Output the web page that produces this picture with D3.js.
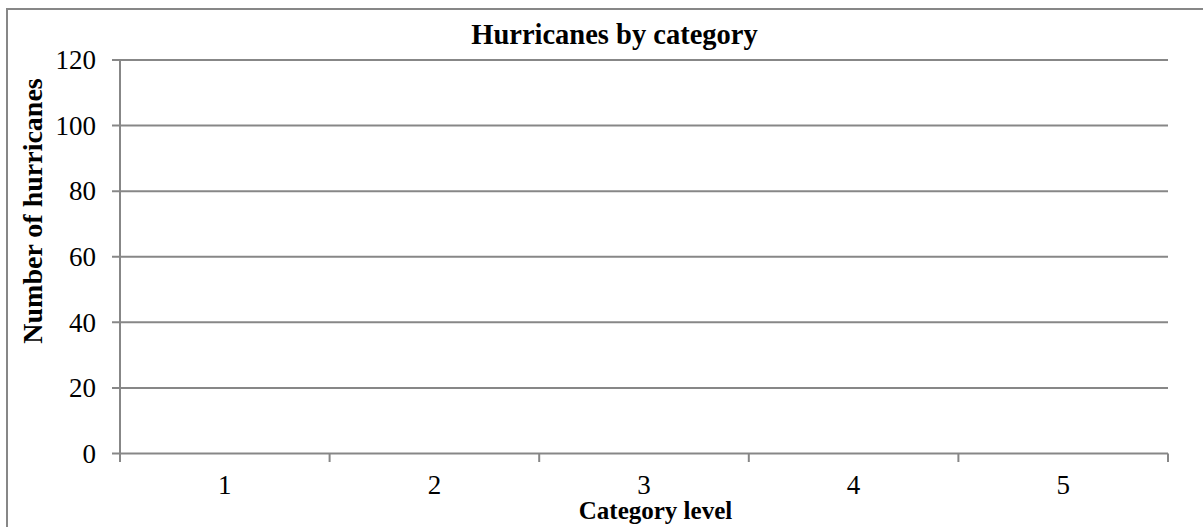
<!DOCTYPE html>
<html>
<head>
<meta charset="utf-8">
<script src="https://cdn.jsdelivr.net/npm/d3@7"></script>
<style>
  html, body { margin: 0; padding: 0; background: #fff; }
  svg { display: block; }
  text { font-family: "Liberation Serif", "Times New Roman", serif; fill: #000; }
</style>
</head>
<body>
<svg id="chart" width="1203" height="527"></svg>
<script>
// Chart data
const categories = ["1", "2", "3", "4", "5"];
const hurricaneCounts = [null, null, null, null, null]; // no counts recorded yet
const yTicks = [0, 20, 40, 60, 80, 100, 120];
const chartTitle = "Hurricanes by category";
const xTitle = "Category level";
const yTitle = "Number of hurricanes";

const svg = d3.select("#chart");
const plot = { left: 120, right: 1168, top: 60, bottom: 453.5 };
const gray = "#878787";

// Outer chart frame (extends past the visible window on the right and bottom)
svg.append("rect")
  .attr("x", 7).attr("y", 9)
  .attr("width", 1240).attr("height", 560)
  .attr("fill", "none").attr("stroke", gray).attr("stroke-width", 2);

const x = d3.scaleBand().domain(categories).range([plot.left, plot.right]).padding(0.3).paddingOuter(0.15);
const xBand = d3.scaleBand().domain(categories).range([plot.left, plot.right]).padding(0);
const y = d3.scaleLinear().domain([0, 120]).range([plot.bottom, plot.top]);

// Horizontal gridlines with left tick stubs
svg.append("g").selectAll("line").data(yTicks.filter(d => d > 0)).join("line")
  .attr("x1", plot.left - 8).attr("x2", plot.right)
  .attr("y1", d => y(d)).attr("y2", d => y(d))
  .attr("stroke", gray).attr("stroke-width", 2);

// Y axis line
svg.append("line")
  .attr("x1", plot.left).attr("x2", plot.left)
  .attr("y1", plot.top).attr("y2", plot.bottom + 8.5)
  .attr("stroke", gray).attr("stroke-width", 2);

// Bars (only for categories with a recorded count)
svg.append("g").selectAll("rect")
  .data(categories.map((c, i) => ({ c, v: hurricaneCounts[i] })).filter(d => d.v != null))
  .join("rect")
  .attr("x", d => x(d.c)).attr("width", x.bandwidth())
  .attr("y", d => y(d.v)).attr("height", d => y(0) - y(d.v))
  .attr("fill", "#4f81bd");

// X axis baseline with tick marks at category boundaries
svg.append("line")
  .attr("x1", plot.left - 8).attr("x2", plot.right)
  .attr("y1", plot.bottom).attr("y2", plot.bottom)
  .attr("stroke", gray).attr("stroke-width", 2);
const boundaries = categories.map(c => xBand(c)).concat([plot.right]);
svg.append("g").selectAll("line").data(boundaries).join("line")
  .attr("x1", d => d).attr("x2", d => d)
  .attr("y1", plot.bottom).attr("y2", plot.bottom + 8.5)
  .attr("stroke", gray).attr("stroke-width", 2);

// Y tick labels
svg.append("g").selectAll("text").data(yTicks).join("text")
  .attr("x", 96).attr("y", d => y(d))
  .attr("dy", "0.34em")
  .attr("text-anchor", "end")
  .attr("font-size", 27)
  .text(d => d);

// X tick labels
svg.append("g").selectAll("text").data(categories).join("text")
  .attr("x", d => xBand(d) + xBand.bandwidth() / 2).attr("y", 494)
  .attr("text-anchor", "middle")
  .attr("font-size", 27)
  .text(d => d);

// Titles
svg.append("text")
  .attr("x", 614.5).attr("y", 44)
  .attr("text-anchor", "middle")
  .attr("font-size", 28.5).attr("font-weight", "bold")
  .text(chartTitle);

svg.append("text")
  .attr("x", 655.5).attr("y", 519)
  .attr("text-anchor", "middle")
  .attr("font-size", 25).attr("font-weight", "bold")
  .text(xTitle);

svg.append("text")
  .attr("transform", "translate(42,211) rotate(-90)")
  .attr("text-anchor", "middle")
  .attr("font-size", 28).attr("font-weight", "bold")
  .text(yTitle);
</script>
</body>
</html>
